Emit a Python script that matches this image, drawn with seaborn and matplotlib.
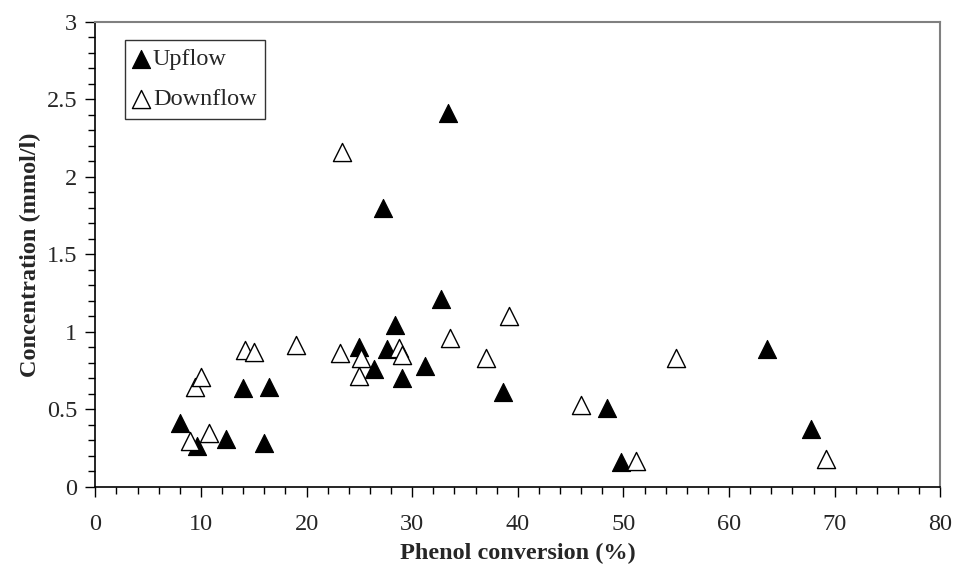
import matplotlib
matplotlib.use("Agg")
import matplotlib.pyplot as plt
from matplotlib.ticker import MultipleLocator, FuncFormatter
import seaborn as sns
import pandas as pd

up_x = [8.0, 9.6, 12.4, 14.0, 16.0, 16.4, 25.0, 26.4, 27.2, 27.6, 28.4, 29.0, 31.2, 32.7, 33.4,
        38.6, 48.4, 49.8, 63.6, 67.8]
up_y = [0.41, 0.26, 0.31, 0.64, 0.28, 0.645, 0.90, 0.76, 1.80, 0.89, 1.045, 0.705, 0.78, 1.215, 2.41,
        0.61, 0.505, 0.16, 0.89, 0.375]

down_x = [9.0, 9.4, 10.0, 10.8, 14.2, 15.0, 19.0, 23.2, 23.4, 25.0, 25.2, 28.8, 29.0, 33.6,
          37.0, 39.2, 46.0, 51.2, 55.0, 69.2]
down_y = [0.295, 0.645, 0.71, 0.35, 0.88, 0.87, 0.915, 0.865, 2.16, 0.715, 0.83, 0.895, 0.85, 0.958,
          0.83, 1.105, 0.53, 0.165, 0.833, 0.178]

x_ticks = [0, 10, 20, 30, 40, 50, 60, 70, 80]
y_ticks = [0, 0.5, 1, 1.5, 2, 2.5, 3]

df_up = pd.DataFrame({"x": up_x, "y": up_y})
df_down = pd.DataFrame({"x": down_x, "y": down_y})

sns.set_style("ticks")
plt.rcParams["font.family"] = ["Liberation Serif", "DejaVu Serif"]

fig = plt.figure(figsize=(9.54, 5.76), dpi=100)
ax = fig.add_axes([0.0999, 0.155, 0.8857, 0.8068])

sns.scatterplot(data=df_up, x="x", y="y", ax=ax, marker="^", s=170,
                color="black", edgecolor="black", linewidth=0.8, label="Upflow", zorder=3)
sns.scatterplot(data=df_down, x="x", y="y", ax=ax, marker="^", s=170,
                facecolor="white", edgecolor="black", linewidth=1.0, label="Downflow", zorder=3)

ax.set_xlim(0, 80)
ax.set_ylim(0, 3)
ax.set_xticks(x_ticks)
ax.set_yticks(y_ticks)
ax.xaxis.set_minor_locator(MultipleLocator(2))
ax.yaxis.set_minor_locator(MultipleLocator(0.1))
ax.yaxis.set_major_formatter(FuncFormatter(lambda v, p: f"{v:g}"))

ax.tick_params(axis="both", which="major", direction="out", length=7, width=1.0,
               labelsize=17.5, color="black", pad=6)
ax.tick_params(axis="both", which="minor", direction="out", length=5, width=1.0, color="black")
ax.tick_params(axis="x", which="major", pad=13)

for side in ["left", "bottom"]:
    ax.spines[side].set_color("black")
    ax.spines[side].set_linewidth(1.2)
for side in ["top", "right"]:
    ax.spines[side].set_visible(True)
    ax.spines[side].set_color("#808080")
    ax.spines[side].set_linewidth(1.5)

ax.set_xlabel("Phenol conversion (%)", fontsize=17.5, fontweight="bold", labelpad=5)
ax.set_ylabel("Concentration (mmol/l)", fontsize=17.5, fontweight="bold", labelpad=4)

leg = ax.legend(loc="upper left", bbox_to_anchor=(0.035, 0.962), frameon=True, fancybox=False,
                edgecolor="black", fontsize=17.5, handlelength=0.6, handletextpad=0.2,
                borderpad=0.35, labelspacing=0.75, borderaxespad=0, markerscale=1.0)
leg.get_frame().set_linewidth(1.0)

fig.savefig("out.png", dpi=100)
